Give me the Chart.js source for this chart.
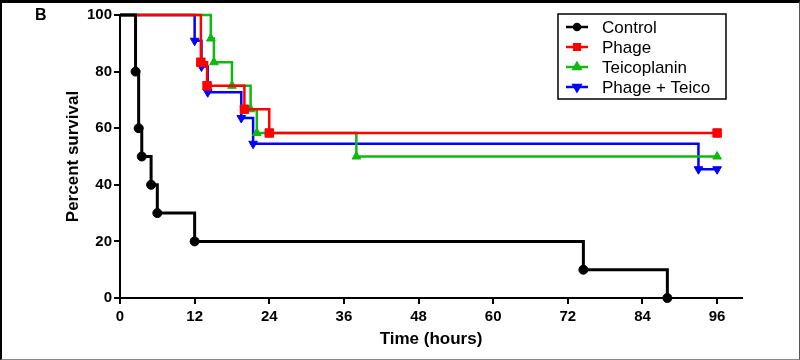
<!DOCTYPE html>
<html>
<head>
<meta charset="utf-8">
<script src="https://cdn.jsdelivr.net/npm/chart.js@4.4.1/dist/chart.umd.min.js"></script>
<style>
    html, body { margin: 0; padding: 0; background: #fff; }
    #wrap { position: relative; width: 800px; height: 360px; }
    #frame {
        position: absolute; left: 0; top: 0; width: 800px; height: 360px;
        box-sizing: border-box; pointer-events: none;
        border-top: 3px solid #000; border-left: 2px solid #000;
        border-right: 1px solid #555; border-bottom: 1px solid #888;
    }
    #panel {
        position: absolute; left: 35px; top: 6px;
        font: bold 16px "Liberation Sans", Arial, sans-serif;
    }
</style>
</head>
<body>
<div id="wrap">
    <canvas id="survivalChart" width="800" height="360"></canvas>
    <div id="panel">B</div>
    <div id="frame"></div>
</div>
<script>
// Kaplan-Meier survival curves (time in hours, percent survival)
const controlTimes = [0, 2.5, 3, 3.5, 5, 6, 12, 74.5, 88];
const controlSurvival = [100, 80, 60, 50, 40, 30, 20, 10, 0];

const phageTimes = [0, 13, 14, 20, 24, 96];
const phageSurvival = [100, 83.3, 75, 66.7, 58.3, 58.3];

const teicoTimes = [0, 14.6, 15.1, 18, 21, 22, 38, 96];
const teicoSurvival = [100, 91.7, 83.3, 75, 66.7, 58.3, 50, 50];

const comboTimes = [0, 12, 13.1, 14.1, 19.5, 21.4, 93, 96];
const comboSurvival = [100, 90.9, 81.8, 72.7, 63.6, 54.5, 45.5, 45.5];

const seriesLabels = ['Control', 'Phage', 'Teicoplanin', 'Phage + Teico'];
const xTicks = [0, 12, 24, 36, 48, 60, 72, 84, 96];
const yTicks = [0, 20, 40, 60, 80, 100];

const FONT = '"Liberation Sans", Arial, sans-serif';

function toPoints(times, values) {
    return times.map((t, i) => ({ x: t, y: values[i] }));
}

// skip the marker on the starting point (t = 0)
function markerRadius(r) {
    return ctx => ctx.dataIndex === 0 ? 0 : r;
}

function makeSeries(label, times, values, color, style, radius, rotation) {
    return {
        label: label,
        data: toPoints(times, values),
        borderColor: color,
        backgroundColor: color,
        borderWidth: label === 'Control' ? 3 : 2.5,
        stepped: 'before',
        pointStyle: style,
        pointRotation: rotation || 0,
        pointRadius: markerRadius(radius),
        pointHoverRadius: markerRadius(radius),
        pointBorderWidth: 1,
        clip: 8,
        fill: false
    };
}

// Legend box drawn inside the plot (top right)
const boxLegend = {
    id: 'boxLegend',
    afterDraw(chart) {
        const ctx = chart.ctx;
        const area = chart.chartArea;
        const left = area.right - 184;
        const top = area.top - 1;
        ctx.save();
        ctx.strokeStyle = '#000';
        ctx.lineWidth = 1.5;
        ctx.strokeRect(left, top, 168, 85);
        ctx.font = '17px ' + FONT;
        ctx.textBaseline = 'middle';
        chart.data.datasets.forEach((ds, i) => {
            const y = top + 13 + i * 20;
            ctx.strokeStyle = ds.borderColor;
            ctx.lineWidth = 2.5;
            ctx.beginPath();
            ctx.moveTo(left + 8, y);
            ctx.lineTo(left + 30, y);
            ctx.stroke();
            ctx.fillStyle = ds.borderColor;
            Chart.helpers.drawPoint(ctx, {
                pointStyle: ds.pointStyle,
                rotation: ds.pointRotation,
                radius: ds.pointStyle === 'circle' ? 3 : 4,
                borderWidth: 1
            }, left + 19, y);
            ctx.fillStyle = '#000';
            ctx.fillText(ds.label, left + 44, y + 1);
        });
        ctx.restore();
    }
};

const chart = new Chart(document.getElementById('survivalChart'), {
    type: 'line',
    data: {
        datasets: [
            makeSeries(seriesLabels[0], controlTimes, controlSurvival, '#000000', 'circle', 4.5),
            makeSeries(seriesLabels[1], phageTimes, phageSurvival, '#ff0000', 'rect', 6),
            makeSeries(seriesLabels[2], teicoTimes, teicoSurvival, '#11b811', 'triangle', 5),
            makeSeries(seriesLabels[3], comboTimes, comboSurvival, '#0000ff', 'triangle', 5, 180)
        ]
    },
    options: {
        responsive: false,
        animation: false,
        layout: {
            padding: { left: 0, right: 58, top: 15, bottom: 0 }
        },
        plugins: {
            legend: { display: false },
            tooltip: { enabled: false }
        },
        scales: {
            x: {
                type: 'linear',
                min: 0,
                max: 100,
                afterBuildTicks: scale => {
                    scale.ticks = xTicks.map(v => ({ value: v }));
                },
                afterFit: scale => { scale.height = 62; },
                grid: {
                    drawOnChartArea: false,
                    color: '#000',
                    lineWidth: 2,
                    tickLength: 6
                },
                border: { color: '#000', width: 2 },
                ticks: {
                    color: '#000',
                    padding: 4,
                    maxRotation: 0,
                    font: { family: FONT, size: 15, weight: 'bold' }
                },
                title: {
                    display: true,
                    text: 'Time (hours)',
                    color: '#000',
                    padding: { bottom: 10 },
                    font: { family: FONT, size: 17, weight: 'bold' }
                }
            },
            y: {
                min: 0,
                max: 100,
                afterBuildTicks: scale => {
                    scale.ticks = yTicks.map(v => ({ value: v }));
                },
                afterFit: scale => { scale.width = 120; },
                grid: {
                    drawOnChartArea: false,
                    color: '#000',
                    lineWidth: 2,
                    tickLength: 6
                },
                border: { color: '#000', width: 2 },
                ticks: {
                    color: '#000',
                    padding: 2,
                    font: { family: FONT, size: 15, weight: 'bold' }
                },
                title: {
                    display: true,
                    text: 'Percent survival',
                    color: '#000',
                    padding: { top: 63 },
                    font: { family: FONT, size: 17, weight: 'bold' }
                }
            }
        }
    },
    plugins: [boxLegend]
});
</script>
</body>
</html>
